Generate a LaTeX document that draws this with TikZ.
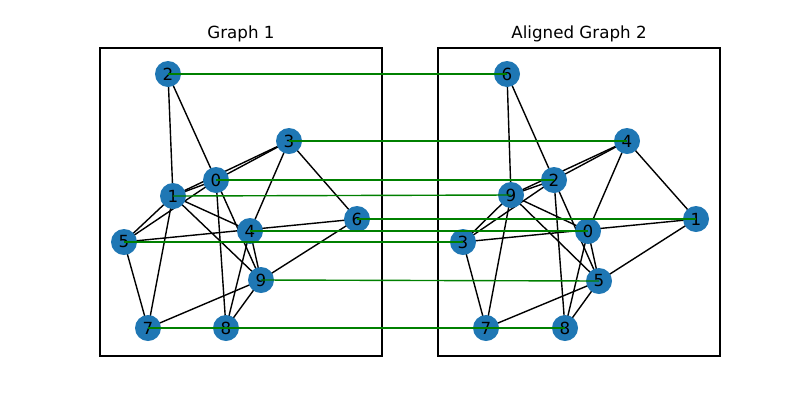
\documentclass[tikz,border=0pt]{standalone}
\usepackage{fontspec}
\setmainfont{DejaVu Sans}
\definecolor{nb}{HTML}{1F77B4}
\definecolor{mg}{HTML}{008000}
\begin{document}
\begin{tikzpicture}[x=1pt,y=-1pt,
  vtx/.style={circle,fill=nb,minimum size=26pt,inner sep=0pt,font=\fontsize{16.7}{20}\selectfont},
  edge/.style={black,line width=1.4pt},
  match/.style={mg,line width=1.4pt},
  frame/.style={black,line width=1.1pt}]
\useasboundingbox (0,0) rectangle (800,400);
\draw[frame] (100,48) rectangle (382,356);
\draw[frame] (438,48) rectangle (720,356);
\node[font=\fontsize{16.7}{20}\selectfont] (t1) at (241,34) {Graph 1};
\node[font=\fontsize{16.7}{20}\selectfont] (t2) at (579,34) {Aligned Graph 2};
\foreach \n/\x/\y in {2/168/74,3/289/141,0/216/180,1/173/196,6/357/219,4/250/231,5/124/242,9/261/280,7/148/328,8/226/328}
  \coordinate (a\n) at (\x,\y);
\foreach \n/\x/\y in {6/507/74,4/627/141,2/554/180,9/511/195,1/696/219,0/588/231,3/463/242,5/599/281,7/486/328,8/565/328}
  \coordinate (b\n) at (\x,\y);
\foreach \u/\v in {2/1,2/0,0/3,1/3,0/1,3/4,3/6,1/5,0/5,1/4,1/9,1/7,0/8,0/9,5/6,4/9,4/8,9/8,9/7,9/6,5/7,7/8}
  \draw[edge] (a\u) -- (a\v);
\foreach \u/\v in {6/9,6/2,2/4,9/4,2/9,4/0,4/1,9/3,2/3,9/0,9/5,9/7,2/8,2/5,3/1,0/5,0/8,5/8,5/7,5/1,3/7,7/8}
  \draw[edge] (b\u) -- (b\v);
\foreach \n in {0,...,9} {
  \node[vtx] (na\n) at (a\n) {\n};
  \node[vtx] (nb\n) at (b\n) {\n};
}
\foreach \u/\v in {0/2,1/9,2/6,3/4,4/0,5/3,6/1,7/7,8/8,9/5}
  \draw[match] (na\u.center) -- (nb\v.center);
\end{tikzpicture}
\end{document}
